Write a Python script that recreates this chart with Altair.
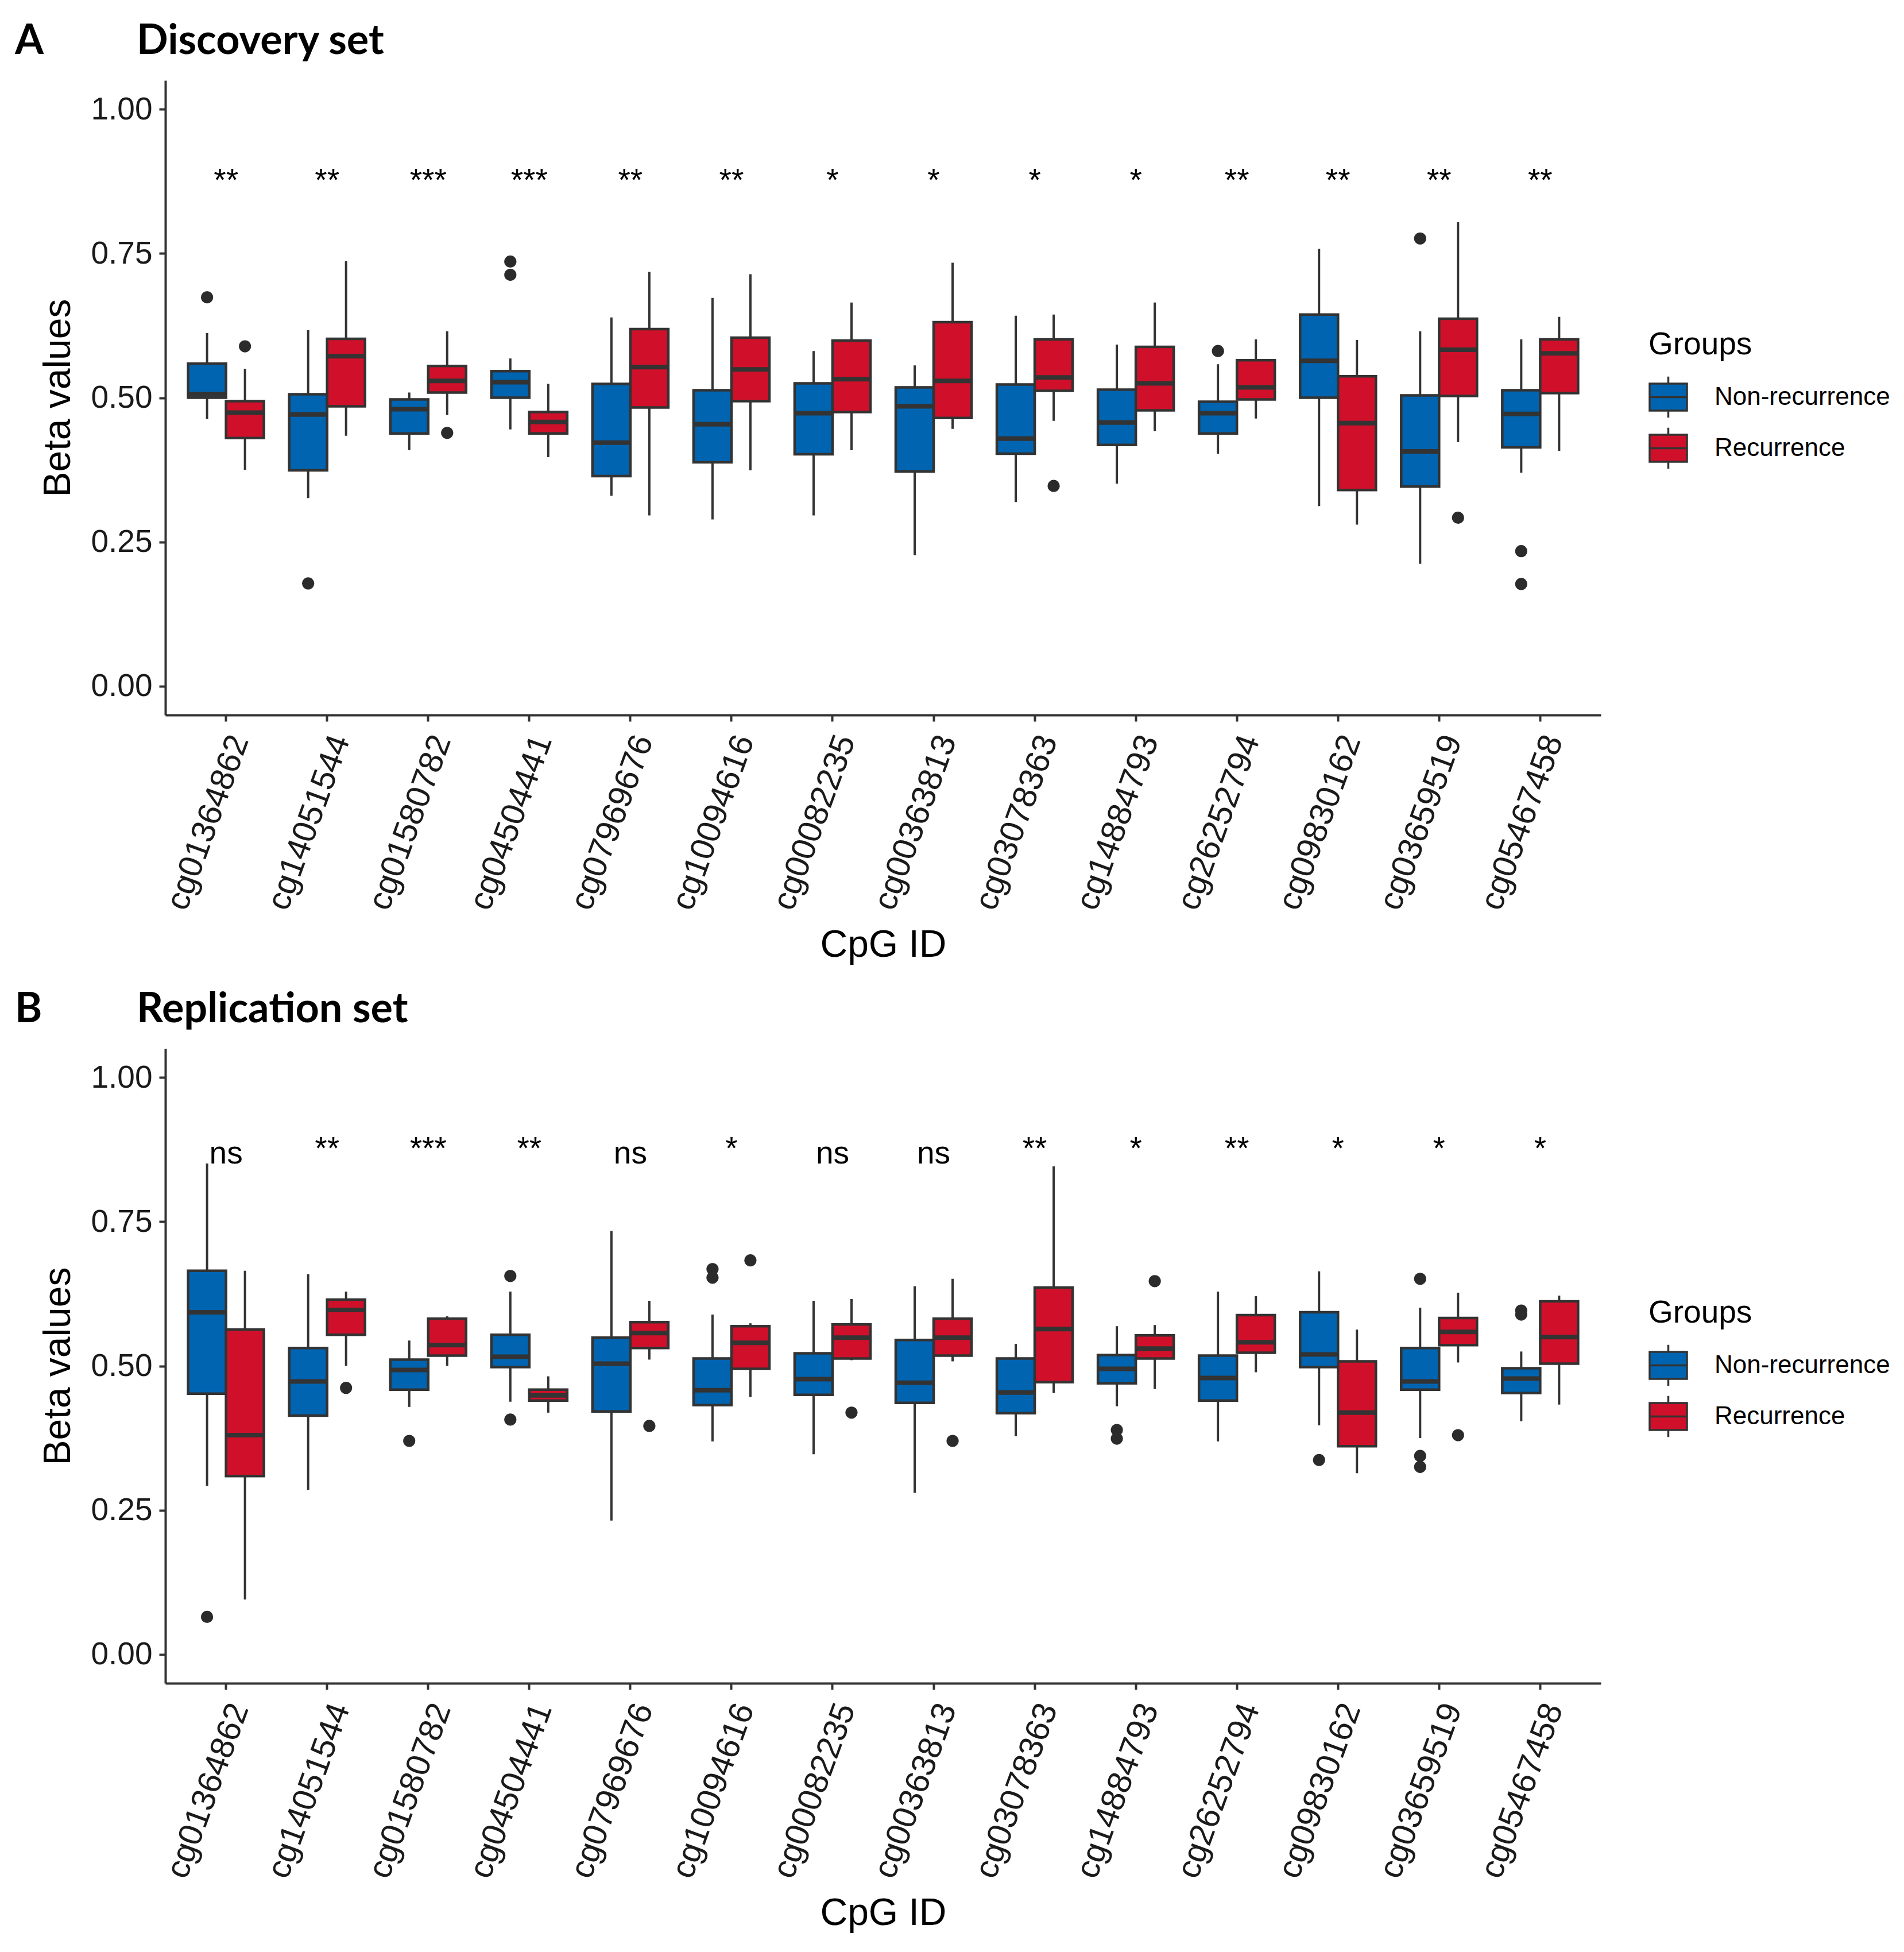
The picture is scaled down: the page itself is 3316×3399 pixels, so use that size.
import altair as alt
import pandas as pd

cpgs = ["cg01364862", "cg14051544", "cg01580782", "cg04504441", "cg07969676",
        "cg10094616", "cg00082235", "cg00363813", "cg03078363", "cg14884793",
        "cg26252794", "cg09830162", "cg03659519", "cg05467458"]
groups = ["Non-recurrence", "Recurrence"]
colors = ["#0064B1", "#D0102A"]

# ---- Discovery set ----
disc_nr_lo = [0.463, 0.326, 0.409, 0.445, 0.330, 0.289, 0.296, 0.227, 0.319, 0.351, 0.403, 0.312, 0.212, 0.370]
disc_nr_q1 = [0.500, 0.374, 0.438, 0.500, 0.364, 0.388, 0.402, 0.372, 0.403, 0.418, 0.438, 0.500, 0.346, 0.414]
disc_nr_med = [0.506, 0.471, 0.480, 0.527, 0.422, 0.454, 0.473, 0.485, 0.429, 0.457, 0.473, 0.564, 0.407, 0.472]
disc_nr_q3 = [0.559, 0.506, 0.497, 0.546, 0.524, 0.513, 0.525, 0.518, 0.523, 0.514, 0.493, 0.644, 0.504, 0.513]
disc_nr_hi = [0.612, 0.617, 0.509, 0.568, 0.639, 0.673, 0.581, 0.556, 0.642, 0.592, 0.558, 0.758, 0.615, 0.601]
disc_nr_out = {0: [0.674], 1: [0.178], 3: [0.736, 0.713], 10: [0.581], 12: [0.776], 13: [0.234, 0.177]}

disc_r_lo = [0.375, 0.434, 0.470, 0.397, 0.296, 0.374, 0.409, 0.446, 0.460, 0.442, 0.464, 0.280, 0.423, 0.408]
disc_r_q1 = [0.430, 0.485, 0.509, 0.438, 0.483, 0.494, 0.475, 0.465, 0.512, 0.478, 0.497, 0.340, 0.503, 0.508]
disc_r_med = [0.474, 0.572, 0.529, 0.458, 0.553, 0.549, 0.532, 0.529, 0.535, 0.525, 0.518, 0.456, 0.583, 0.577]
disc_r_q3 = [0.494, 0.602, 0.555, 0.475, 0.619, 0.604, 0.599, 0.631, 0.601, 0.588, 0.565, 0.537, 0.637, 0.601]
disc_r_hi = [0.550, 0.737, 0.615, 0.524, 0.718, 0.714, 0.665, 0.734, 0.644, 0.665, 0.601, 0.600, 0.804, 0.640]
disc_r_out = {0: [0.589], 2: [0.439], 8: [0.347], 12: [0.292]}

disc_sig = ["**", "**", "***", "***", "**", "**", "*", "*", "*", "*", "**", "**", "**", "**"]

# ---- Replication set ----
rep_nr_lo = [0.292, 0.285, 0.429, 0.438, 0.232, 0.369, 0.347, 0.280, 0.378, 0.430, 0.369, 0.397, 0.375, 0.404]
rep_nr_q1 = [0.452, 0.414, 0.459, 0.498, 0.421, 0.432, 0.450, 0.436, 0.418, 0.470, 0.440, 0.498, 0.459, 0.453]
rep_nr_med = [0.593, 0.473, 0.493, 0.516, 0.504, 0.458, 0.477, 0.471, 0.454, 0.495, 0.479, 0.520, 0.473, 0.478]
rep_nr_q3 = [0.665, 0.531, 0.511, 0.554, 0.549, 0.513, 0.522, 0.545, 0.513, 0.519, 0.518, 0.593, 0.531, 0.496]
rep_nr_hi = [0.851, 0.659, 0.544, 0.629, 0.734, 0.589, 0.613, 0.638, 0.538, 0.569, 0.629, 0.664, 0.601, 0.525]
rep_nr_out = {0: [0.065], 2: [0.370], 3: [0.656, 0.407], 5: [0.668, 0.653], 9: [0.389, 0.374],
              11: [0.337], 12: [0.651, 0.344, 0.325], 13: [0.596, 0.589]}

rep_r_lo = [0.095, 0.500, 0.500, 0.419, 0.511, 0.446, 0.510, 0.508, 0.453, 0.460, 0.489, 0.314, 0.506, 0.433]
rep_r_q1 = [0.309, 0.554, 0.518, 0.440, 0.531, 0.495, 0.513, 0.518, 0.472, 0.513, 0.523, 0.361, 0.536, 0.504]
rep_r_med = [0.380, 0.597, 0.536, 0.449, 0.557, 0.540, 0.549, 0.549, 0.564, 0.530, 0.541, 0.419, 0.559, 0.550]
rep_r_q3 = [0.563, 0.615, 0.582, 0.459, 0.576, 0.569, 0.572, 0.582, 0.636, 0.553, 0.588, 0.508, 0.583, 0.612]
rep_r_hi = [0.665, 0.629, 0.586, 0.482, 0.613, 0.574, 0.616, 0.651, 0.846, 0.571, 0.621, 0.563, 0.627, 0.622]
rep_r_out = {1: [0.462], 4: [0.396], 5: [0.683], 6: [0.419], 7: [0.370], 9: [0.647], 12: [0.380]}

rep_sig = ["ns", "**", "***", "**", "ns", "*", "ns", "ns", "**", "*", "**", "*", "*", "*"]

DARK = "#333333"
FONT = "Liberation Sans"
TFONT = "Lato"
LEGEND_SYMBOL = "M-1,-0.72L1,-0.72L1,0.72L-1,0.72Z M-1,0L1,0 M0,-0.72L0,-1.1 M0,0.72L0,1.1"


def panel(nr, r, out_nr, out_r, sig, letter, title):
    rows = []
    for g, st in zip(groups, (nr, r)):
        lo, q1, med, q3, hi = st
        for i, c in enumerate(cpgs):
            rows.append(dict(cpg=c, group=g, lo=lo[i], q1=q1[i], med=med[i], q3=q3[i], hi=hi[i]))
    box_df = pd.DataFrame(rows)
    orows = []
    for g, od in zip(groups, (out_nr, out_r)):
        for i, vals in od.items():
            for v in vals:
                orows.append(dict(cpg=cpgs[i], group=g, value=v))
    out_df = pd.DataFrame(orows)
    sig_df = pd.DataFrame(dict(cpg=cpgs, label=sig))

    xscale = alt.Scale(domain=cpgs, paddingInner=0.25, paddingOuter=0.225)
    xaxis = alt.Axis(title="CpG ID", labelAngle=-70, labelAlign="right", labelBaseline="middle",
                     labelFontSize=58, titleFontSize=66, labelPadding=26, labelOffset=24,
                     labelLimit=0, titleY=420, titleBaseline="alphabetic")
    X = alt.X("cpg:N", scale=xscale, axis=xaxis, sort=cpgs, title="CpG ID")
    XO = alt.XOffset("group:N", scale=alt.Scale(domain=groups, paddingInner=0, paddingOuter=0))
    yscale = alt.Scale(domain=[-0.05, 1.05], nice=False, zero=False)
    yaxis = alt.Axis(values=[0, 0.25, 0.5, 0.75, 1.0], format=".2f", title="Beta values",
                     labelFontSize=55, titleFontSize=66, labelPadding=12, titlePadding=22)

    def Y(f):
        return alt.Y(f, scale=yscale, axis=yaxis, title="Beta values")

    whisk = alt.Chart(box_df).mark_rule(color=DARK, strokeWidth=4).encode(
        x=X, xOffset=XO, y=Y("lo:Q"), y2="hi:Q")
    boxes = alt.Chart(box_df).mark_bar(stroke=DARK, strokeWidth=4.5, opacity=1).encode(
        x=X, xOffset=XO, y=Y("q1:Q"), y2="q3:Q",
        fill=alt.Fill("group:N", scale=alt.Scale(domain=groups, range=colors),
                      legend=alt.Legend(title="Groups", orient="none", legendX=2583, legendY=434,
                                        symbolType=LEGEND_SYMBOL, symbolSize=4225,
                                        symbolStrokeColor=DARK, symbolStrokeWidth=3.5,
                                        titleFontSize=55, labelFontSize=44, titleFont=FONT,
                                        labelFont=FONT, titleFontWeight="normal",
                                        titleColor="#000000", labelColor="#000000",
                                        labelLimit=0, titleLimit=0,
                                        labelOffset=46, rowPadding=2, titlePadding=28)))
    meds = alt.Chart(box_df).mark_tick(color=DARK, thickness=8, size=64, opacity=1).encode(
        x=X, xOffset=XO, y=Y("med:Q"))
    outs = alt.Chart(out_df).mark_circle(color="#2b2b2b", size=450, opacity=1).encode(
        x=X, xOffset=XO, y=Y("value:Q"))
    ydat = alt.YDatum(0.851, type="quantitative", scale=yscale, axis=yaxis, title="Beta values")
    stars = alt.Chart(sig_df).transform_filter(alt.datum.label != "ns").mark_text(
        font=FONT, fontSize=55, baseline="alphabetic", color="#000000", dy=-8).encode(
        x=X, y=ydat, text="label:N")
    ns = alt.Chart(sig_df).transform_filter(alt.datum.label == "ns").mark_text(
        font=FONT, fontSize=55, baseline="alphabetic", color="#000000").encode(
        x=X, y=ydat, text="label:N")
    letter_t = alt.Chart(pd.DataFrame({"t": [letter]})).mark_text(
        font=TFONT, fontWeight="bold", fontSize=72, align="left", baseline="alphabetic",
        color="#000000").encode(x=alt.value(-262), y=alt.value(-46), text="t:N")
    title_t = alt.Chart(pd.DataFrame({"t": [title]})).mark_text(
        font=TFONT, fontWeight="bold", fontSize=72, align="left", baseline="alphabetic",
        color="#000000").encode(x=alt.value(-50), y=alt.value(-46), text="t:N")

    return alt.layer(whisk, boxes, meds, outs, stars, ns, letter_t, title_t).properties(
        width=2500, height=1105)


chart_a = panel((disc_nr_lo, disc_nr_q1, disc_nr_med, disc_nr_q3, disc_nr_hi),
                (disc_r_lo, disc_r_q1, disc_r_med, disc_r_q3, disc_r_hi),
                disc_nr_out, disc_r_out, disc_sig, "A", "Discovery set")
chart_b = panel((rep_nr_lo, rep_nr_q1, rep_nr_med, rep_nr_q3, rep_nr_hi),
                (rep_r_lo, rep_r_q1, rep_r_med, rep_r_q3, rep_r_hi),
                rep_nr_out, rep_r_out, rep_sig, "B", "Replication set")

chart = alt.vconcat(chart_a, chart_b, spacing=44).resolve_legend(
    fill="independent").resolve_scale(fill="independent").properties(
    padding={"left": 18, "top": 28, "right": 10, "bottom": 10}
).configure_view(stroke=None).configure_axis(
    grid=False, domainColor=DARK, domainWidth=4, tickColor=DARK, tickWidth=4, tickSize=11,
    labelFont=FONT, titleFont=FONT, labelColor="#1a1a1a", titleColor="#000000",
    titleFontWeight="normal"
)

chart.save("out.html", embed_options={"renderer": "svg", "actions": False})
